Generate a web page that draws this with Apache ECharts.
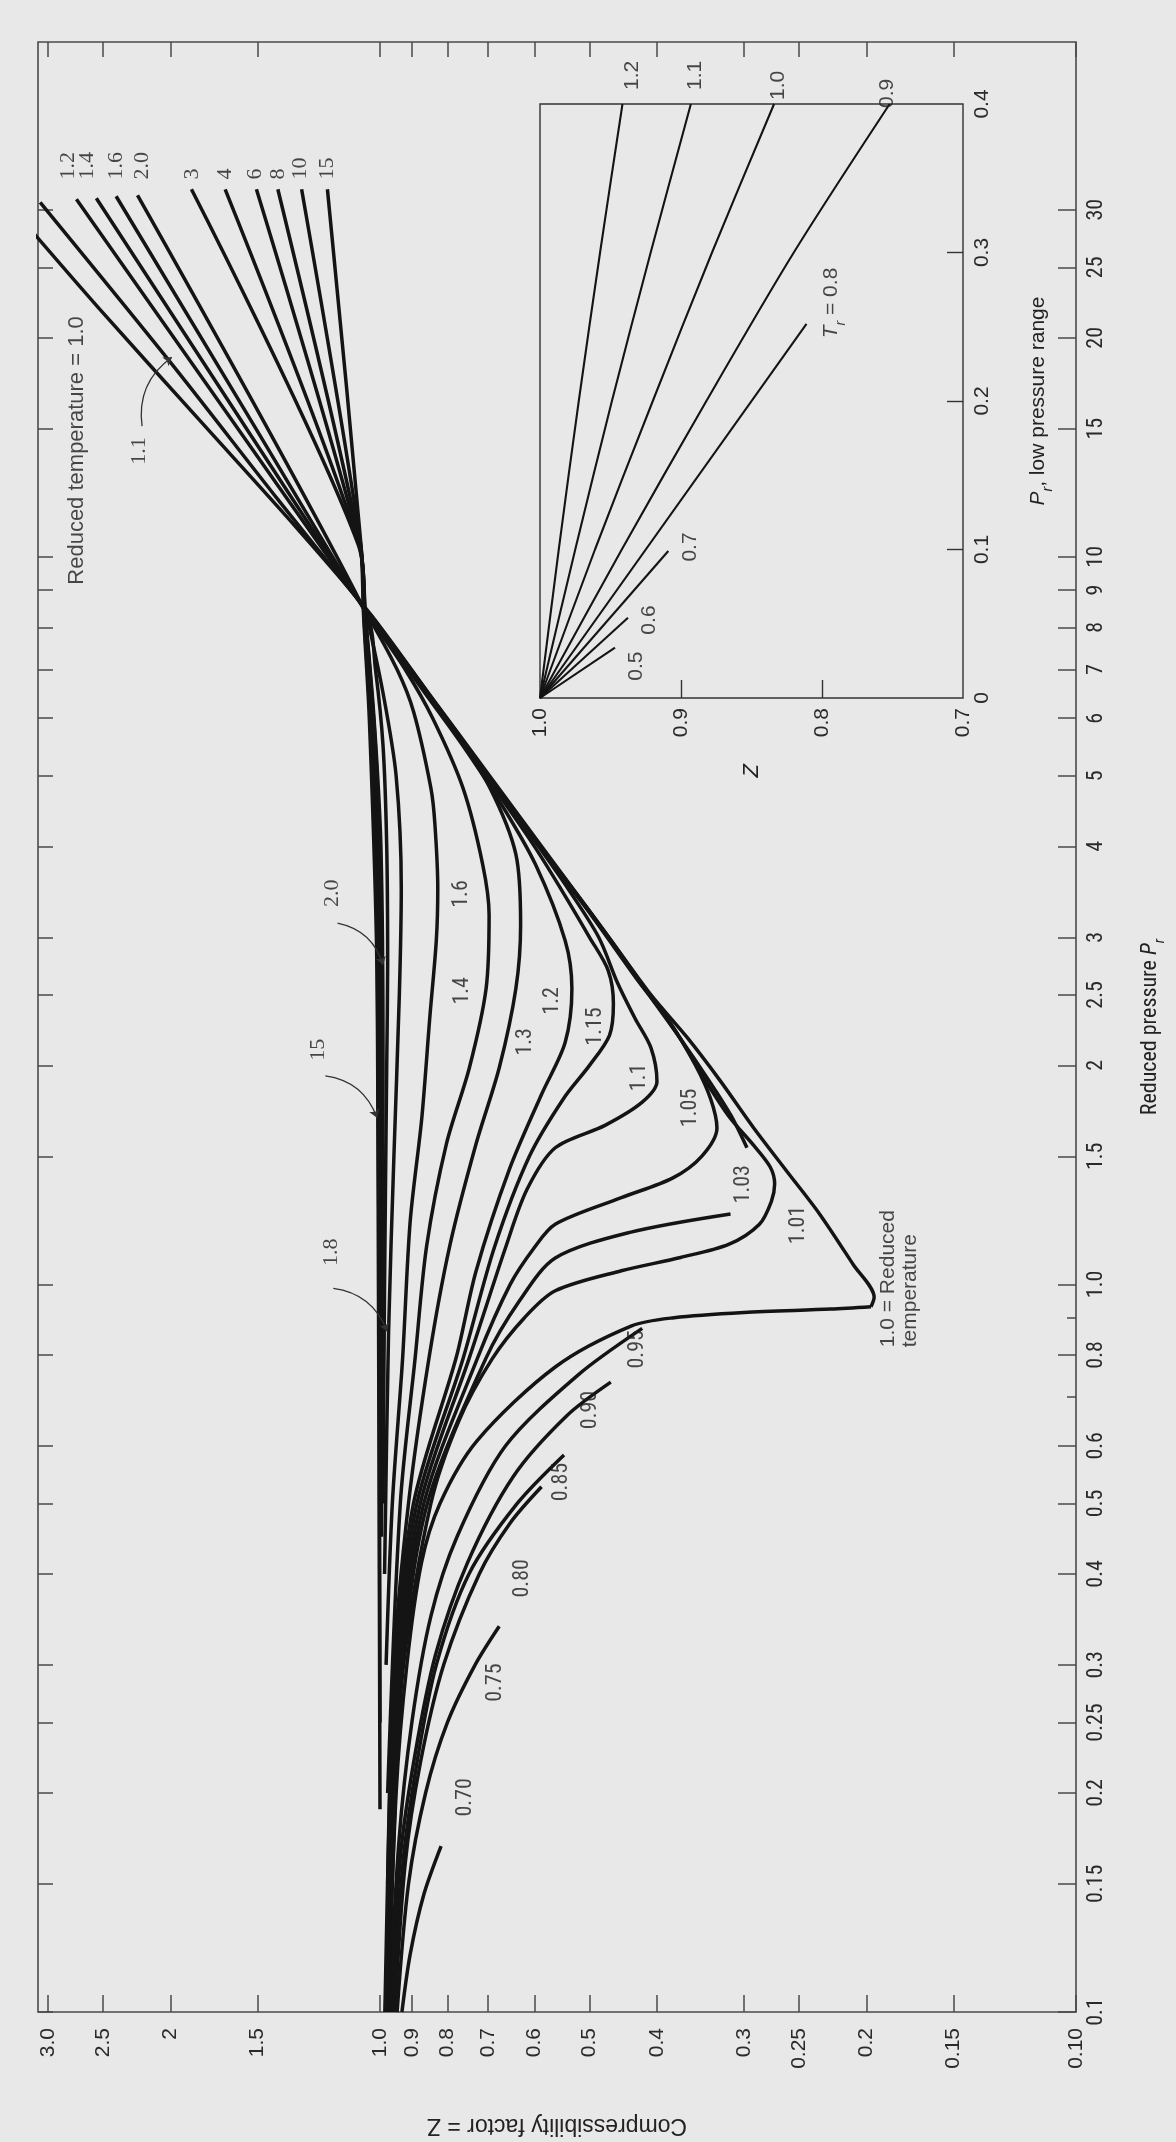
<!DOCTYPE html>
<html><head><meta charset="utf-8">
<script src="https://cdn.jsdelivr.net/npm/echarts@6/dist/echarts.min.js"></script>
<style>html,body{margin:0;padding:0;background:#e8e8e9;}#c{width:1176px;height:2142px;}</style>
</head><body><div id="c"></div>
<script>
// ---------------- axis ticks / labels ----------------
const zTicks = [3.0, 2.5, 2, 1.5, 1.0, 0.9, 0.8, 0.7, 0.6, 0.5, 0.4, 0.3, 0.25, 0.2, 0.15, 0.1];
const zTickText = ['3.0','2.5','2','1.5','1.0','0.9','0.8','0.7','0.6','0.5','0.4','0.3','0.25','0.2','0.15','0.10'];
const prTicks = [0.1,0.15,0.2,0.25,0.3,0.4,0.5,0.6,0.8,1,1.5,2,2.5,3,4,5,6,7,8,9,10,15,20,25,30];
const prTickText = ['0.1','0.15','0.2','0.25','0.3','0.4','0.5','0.6','0.8','1.0','1.5','2','2.5','3','4','5','6','7','8','9','10','15','20','25','30'];
const prMinorTicks = [0.7, 0.9];
const insetZTicks = [0.8, 0.9];
const insetZLabels = [1.0, 0.9, 0.8, 0.7];
const insetPrTicks = [0.1, 0.2, 0.3];
const insetPrLabels = [0, 0.1, 0.2, 0.3, 0.4];

// ---------------- main chart curves: [Pr, Z] ----------------
const T070 = [[0.1,0.93],[0.12,0.905],[0.145,0.865],[0.169,0.817]];
const T075 = [[0.1,0.945],[0.15,0.91],[0.2,0.86],[0.25,0.80],[0.3,0.73],[0.339,0.674]];
const T080 = [[0.1,0.952],[0.16,0.92],[0.22,0.875],[0.3,0.81],[0.4,0.72],[0.47,0.65],[0.527,0.586]];
const T085 = [[0.1,0.957],[0.16,0.927],[0.22,0.885],[0.3,0.83],[0.4,0.745],[0.5,0.635],[0.583,0.544]];
const T090 = [[0.1,0.963],[0.163,0.935],[0.224,0.892],[0.31,0.832],[0.414,0.749],[0.545,0.643],[0.66,0.539],[0.734,0.466]];
const T095 = [[0.1,0.968],[0.17,0.94],[0.25,0.9],[0.35,0.845],[0.45,0.775],[0.6,0.66],[0.75,0.52],[0.87,0.42]];
const T100low = [[0.1,0.972],[0.2,0.948],[0.3,0.915],[0.414,0.872],[0.5,0.82],[0.61,0.725],[0.77,0.56],[0.877,0.435],[0.9,0.378],[0.915,0.3],[0.925,0.225],[0.932,0.197]];
const T100high = [[0.932,0.197],[0.96,0.195],[1.065,0.209],[1.25,0.2336],[1.432,0.2605],[1.642,0.2906],[1.903,0.3242],[2.18,0.3613],[2.5,0.408],[3,0.469],[4,0.586],[5,0.696],[6.5,0.852],[8.35,1.033],[10.92,1.313],[15.46,1.822],[21.9,2.528],[27.9,3.15]];
const T101 = [[0.1,0.974],[0.2,0.95],[0.3,0.925],[0.5,0.845],[0.65,0.77],[0.79,0.69],[0.9,0.62],[0.98,0.56],[1.044,0.45],[1.089,0.37],[1.136,0.315],[1.21,0.285],[1.3,0.274],[1.374,0.271],[1.45,0.275],[1.55,0.29],[1.7,0.315],[1.9,0.34],[2.2,0.373],[2.6,0.422],[3.2,0.493],[4,0.588],[5,0.698],[6.5,0.853],[8.35,1.034]];
const T103low = [[0.1,0.976],[0.2,0.953],[0.3,0.93],[0.5,0.855],[0.79,0.705],[0.95,0.63],[1.087,0.56],[1.18,0.436],[1.25,0.3136]];
const T103high = [[1.541,0.297],[1.706,0.313],[1.9,0.336],[2.2,0.373],[2.6,0.423],[3.2,0.494],[4,0.589],[5,0.699],[6.5,0.854],[8.35,1.035]];
const T105 = [[0.1,0.978],[0.2,0.956],[0.3,0.935],[0.5,0.865],[0.79,0.725],[1.0,0.65],[1.124,0.60],[1.21,0.56],[1.316,0.45],[1.4,0.38],[1.5,0.345],[1.641,0.328],[1.8,0.335],[2.0,0.352],[2.3,0.384],[2.6,0.424],[3.2,0.495],[4,0.59],[5,0.70],[6.5,0.855],[8.35,1.036]];
const T110 = [[0.1,0.98],[0.2,0.96],[0.3,0.94],[0.5,0.875],[0.79,0.745],[1.124,0.66],[1.35,0.615],[1.541,0.56],[1.654,0.475],[1.78,0.42],[1.9,0.40],[2.114,0.408],[2.32,0.43],[2.6,0.456],[3.0,0.485],[3.5,0.537],[4,0.592],[5,0.70],[6.5,0.856],[8.35,1.037],[12,1.403],[18.5,2.0],[30.7,3.078]];
const T115 = [[0.1,0.982],[0.2,0.964],[0.3,0.945],[0.5,0.885],[0.79,0.76],[1.124,0.685],[1.5,0.61],[1.8,0.545],[2.0,0.50],[2.2,0.468],[2.43,0.462],[2.7,0.47],[3.0,0.50],[3.5,0.55],[4,0.60],[5,0.705],[6.5,0.858],[8.35,1.038]];
const T120 = [[0.1,0.984],[0.2,0.968],[0.3,0.95],[0.5,0.895],[0.794,0.777],[1.042,0.728],[1.438,0.652],[1.831,0.585],[2.15,0.542],[2.549,0.53],[2.969,0.542],[3.779,0.598],[4.6,0.672],[5.5,0.76],[6.5,0.862],[7.456,0.955],[8.35,1.04],[16,1.678],[31,2.73]];
const T130 = [[0.15,0.975],[0.3,0.955],[0.5,0.91],[0.794,0.85],[1.129,0.794],[1.558,0.728],[1.985,0.674],[2.549,0.638],[3.117,0.628],[3.902,0.638],[4.813,0.695],[5.8,0.785],[7.0,0.908],[8.35,1.04]];
const T140 = [[0.2,0.975],[0.5,0.935],[0.794,0.89],[1.129,0.857],[1.558,0.803],[1.985,0.744],[2.549,0.704],[3.218,0.697],[3.779,0.712],[4.813,0.76],[6.0,0.84],[7.0,0.92],[8.35,1.042],[31.1,2.556]];
const T160 = [[0.3,0.98],[0.5,0.96],[0.79,0.928],[1.22,0.905],[1.69,0.871],[2.33,0.848],[2.97,0.83],[3.5,0.826],[4.3,0.834],[4.81,0.845],[6.13,0.895],[7.0,0.945],[8.35,1.045],[31.3,2.394]];
const T180 = [[0.4,0.985],[0.86,0.972],[1.5,0.955],[2.5,0.938],[3.5,0.932],[5.0,0.948],[6.5,0.99],[8.35,1.046]];
const T200 = [[0.5,0.99],[1.0,0.985],[2.0,0.978],[2.75,0.975],[4.0,0.978],[5.5,0.99],[7.0,1.015],[8.35,1.046],[31.4,2.23]];
const T300 = [[0.45,0.995],[2,0.99],[4,0.997],[6,1.02],[8.35,1.05],[10.4,1.075],[32,1.866]];
const T400 = [[0.5,1.0],[2,0.998],[5,1.01],[8.35,1.05],[10.4,1.072],[32,1.669]];
const T600 = [[0.62,1.0],[3,1.003],[6,1.025],[8.35,1.051],[10.4,1.07],[32,1.505]];
const T800 = [[0.7,1.0],[3,1.006],[6,1.03],[8.35,1.053],[10.4,1.068],[32,1.402]];
const T1000 = [[0.25,1.0],[3,1.009],[6,1.033],[8.35,1.055],[10.4,1.066],[32,1.296]];
const T1500 = [[0.19,1.0],[1.7,1.007],[3,1.012],[6,1.036],[8.35,1.056],[10.4,1.065],[32,1.19]];

// ---------------- inset curves (low pressure range): [Pr, Z] ----------------
const I05 = [[0,1],[0.034,0.9468]];
const I06 = [[0,1],[0.054,0.9376]];
const I07 = [[0,1],[0.099,0.909]];
const I08 = [[0,1],[0.252,0.811]];
const I09 = [[0,1],[0.1,0.942],[0.2,0.882],[0.3,0.82],[0.4,0.752]];
const I10 = [[0,1],[0.1,0.961],[0.2,0.92],[0.3,0.878],[0.4,0.834]];
const I11 = [[0,1],[0.1,0.975],[0.2,0.949],[0.3,0.9215],[0.4,0.893]];
const I12 = [[0,1],[0.1,0.9867],[0.2,0.9725],[0.3,0.9574],[0.4,0.9415]];

// ---------------- text labels: [text, Z, Pr] ----------------
const curveLabels = [['0.70',0.753,0.1972],['0.75',0.6816,0.2836],['0.80',0.6245,0.3945],['0.85',0.549,0.535],['0.90',0.4976,0.672],['0.95',0.4269,0.8143],['1.01',0.2504,1.207],['1.03',0.3004,1.373],['1.05',0.3581,1.748],['1.1',0.4242,1.925],['1.15',0.4898,2.262],['1.2',0.5657,2.453],['1.3',0.6179,2.155],['1.4',0.760,2.532],['1.6',0.7649,3.44]];
const topLabels = [['1.2',2.809,33],['1.4',2.630,33],['1.6',2.392,33],['2.0',2.197,33],['3',1.864,33],['4',1.668,33],['6',1.511,33],['8',1.402,33],['10',1.300,33],['15',1.190,33]];
const arrowLabels = [['1.1',2.218,13.98],['2.0',1.170,3.449],['15',1.226,2.101],['1.8',1.174,1.107]];
const arrowFrom = [[2.197,15.12],[1.151,3.138],[1.198,1.935],[1.167,0.9874]];
const arrowTo = [[1.991,18.81],[0.990,2.748],[1.010,1.695],[0.977,0.862]];
const insetTopLabels = [['1.2',0.9348,0.4094],['1.1',0.890,0.4094],['1.0',0.8312,0.4027],['0.9',0.7539,0.3973]];
const insetLowLabels = [['0.5',0.9319,0.0215],['0.6',0.9227,0.0525],['0.7',0.8936,0.1017]];

// ---------------- chart ----------------
const NARROW = "'Liberation Sans Narrow','Roboto Condensed','Liberation Sans','DejaVu Sans Condensed',sans-serif";
const SANS = "'Liberation Sans','Helvetica','Arial',sans-serif";
const SERIF = "'Liberation Serif','DejaVu Serif',serif";
const INK = '#141414';
const AX = '#4a4a4a';
const FS = 22;

function fmt(vals, texts) {
  return function (v) {
    for (let i = 0; i < vals.length; i++) if (Math.abs(vals[i] - v) < 1e-6 * Math.max(1, Math.abs(v))) return texts[i];
    return '';
  };
}
const swap = arr => arr.map(p => [p[1], p[0]]);

function lineS(arr, xi, yi, w) {
  return { type: 'line', xAxisIndex: xi, yAxisIndex: yi, data: swap(arr), showSymbol: false, symbol: 'none',
    smooth: 0.3, clip: false, silent: true, lineStyle: { color: INK, width: w }, z: 3 };
}
function textS(items, xi, yi, lab) {
  return { type: 'scatter', xAxisIndex: xi, yAxisIndex: yi, symbolSize: 1, silent: true, clip: false, z: 6,
    itemStyle: { color: 'rgba(0,0,0,0)' },
    data: items.map(d => ({ value: [d[1], d[2]], name: d[0] })),
    label: Object.assign({ show: true, position: 'inside', rotate: 90, formatter: p => p.name,
      color: '#1b1b1b', fontSize: FS, fontFamily: NARROW }, lab) };
}

const mainCurves = [T070, T075, T080, T085, T090, T095, T100low, T100high, T101, T103low, T103high, T105, T110, T115, T120, T130, T140, T160, T180, T200, T300, T400, T600, T800, T1000, T1500];
const insetCurves = [I05, I06, I07, I08, I09, I10, I11, I12];

const series = [];
mainCurves.forEach(c => series.push(lineS(c, 0, 0, 3.5)));
insetCurves.forEach(c => series.push(lineS(c, 2, 3, 2.1)));
series.push(textS(curveLabels, 0, 0, {}));
series.push(textS(topLabels, 0, 0, { align: 'left', fontFamily: SERIF, fontSize: 22 }));
series.push(textS(arrowLabels, 0, 0, { fontFamily: SERIF, fontSize: 22 }));
series.push(textS([['Reduced temperature = 1.0', 2.728, 21.41]], 0, 0, { align: 'right', fontSize: 22, fontFamily: SANS }));
series.push(textS([['1.0 = Reduced\ntemperature', 0.1795, 0.8196]], 0, 0, { align: 'left', fontSize: 21, lineHeight: 22, fontFamily: SANS }));
series.push({ type: 'lines', coordinateSystem: 'cartesian2d', xAxisIndex: 0, yAxisIndex: 0, silent: true, z: 5,
  symbol: ['none', 'arrow'], symbolSize: 8,
  lineStyle: { color: '#333', width: 1.3, curveness: 0.3, opacity: 1 },
  data: arrowFrom.map((f, i) => ({ coords: [f, arrowTo[i]] })) });
series.push(textS(insetTopLabels, 2, 3, { align: 'left', fontSize: 21, fontFamily: SANS }));
series.push(textS(insetLowLabels, 2, 3, { fontSize: 21, fontFamily: SANS }));
series.push(textS([['{i|T}{s|r}{a| = 0.8}', 0.7936, 0.266]], 2, 3, {
  fontSize: 21, rich: { a: { fontSize: 21, fontFamily: SANS, color: '#1b1b1b' }, i: { fontSize: 21, fontStyle: 'italic', fontFamily: SANS, color: '#1b1b1b' },
  s: { fontSize: 14, fontStyle: 'italic', fontFamily: SANS, color: '#1b1b1b', verticalAlign: 'bottom', lineHeight: 34 } } }));

const hidden = { show: false };
const option = {
  backgroundColor: '#e8e8e9',
  animation: false,
  grid: [
    { left: 38, right: 90.6, top: 42, bottom: 126, show: true, borderColor: AX, borderWidth: 1.6, backgroundColor: 'rgba(0,0,0,0)' },
    { left: 540, top: 104, width: 423, height: 594, show: true, borderColor: '#333', borderWidth: 1.4, backgroundColor: 'rgba(0,0,0,0)' }
  ],
  xAxis: [
    { type: 'log', gridIndex: 0, min: 0.1, max: 3.1, inverse: true, position: 'bottom',
      axisLine: hidden, splitLine: hidden, minorTick: hidden,
      axisTick: { show: true, inside: true, length: 17, customValues: zTicks, lineStyle: { color: AX, width: 1.5 } },
      axisLabel: { show: true, rotate: 90, margin: 16, customValues: zTicks, formatter: fmt(zTicks, zTickText), color: '#2a2a2a', fontSize: 21, fontFamily: SANS },
      name: 'Compressibility factor = Z', nameLocation: 'middle', nameGap: 102, nameRotate: 180,
      nameTextStyle: { fontSize: 23, color: '#222', fontFamily: SANS } },
    { type: 'log', gridIndex: 0, min: 0.1, max: 3.1, inverse: true, position: 'top',
      axisLine: hidden, splitLine: hidden, axisLabel: hidden,
      axisTick: { show: true, inside: true, length: 15, customValues: zTicks, lineStyle: { color: AX, width: 1.5 } } },
    { type: 'value', gridIndex: 1, min: 0.7, max: 1.0, inverse: true, position: 'bottom',
      axisLine: hidden, splitLine: hidden,
      axisTick: { show: true, inside: true, length: 18, customValues: insetZTicks, lineStyle: { color: '#333', width: 1.4 } },
      axisLabel: { show: true, rotate: 90, margin: 10, customValues: insetZLabels, formatter: v => v.toFixed(1), color: '#2a2a2a', fontSize: 21, fontFamily: SANS },
      name: 'Z', nameLocation: 'middle', nameGap: 66, nameRotate: 90,
      nameTextStyle: { fontSize: 22, fontStyle: 'italic', color: '#222', fontFamily: SANS } }
  ],
  yAxis: [
    { type: 'log', gridIndex: 0, min: 0.1, max: 51, position: 'right',
      axisLine: hidden, splitLine: hidden, minorTick: hidden,
      axisTick: { show: true, inside: true, length: 18, customValues: prTicks, lineStyle: { color: AX, width: 1.5 } },
      axisLabel: { show: true, rotate: 90, margin: 9, customValues: prTicks, formatter: fmt(prTicks, prTickText), color: '#2a2a2a', fontSize: 22, fontFamily: NARROW },
      name: '{a|Reduced pressure }{i|P}{s|r}', nameLocation: 'middle', nameGap: 56, nameRotate: 90,
      nameTextStyle: { fontSize: 22, color: '#222', fontFamily: NARROW,
        rich: { a: { fontSize: 22, fontFamily: NARROW, color: '#222' }, i: { fontSize: 22, fontStyle: 'italic', fontFamily: NARROW, color: '#222' },
          s: { fontSize: 15, fontStyle: 'italic', fontFamily: NARROW, color: '#222', verticalAlign: 'bottom', lineHeight: 36 } } } },
    { type: 'log', gridIndex: 0, min: 0.1, max: 51, position: 'right', offset: 0,
      axisLine: hidden, splitLine: hidden, axisLabel: hidden,
      axisTick: { show: true, inside: true, length: 9, customValues: prMinorTicks, lineStyle: { color: AX, width: 1.5 } } },
    { type: 'log', gridIndex: 0, min: 0.1, max: 51, position: 'left',
      axisLine: hidden, splitLine: hidden, axisLabel: hidden,
      axisTick: { show: true, inside: true, length: 15, customValues: prTicks, lineStyle: { color: AX, width: 1.5 } } },
    { type: 'value', gridIndex: 1, min: 0, max: 0.4, position: 'right',
      axisLine: hidden, splitLine: hidden,
      axisTick: { show: true, inside: true, length: 16, customValues: insetPrTicks, lineStyle: { color: '#333', width: 1.4 } },
      axisLabel: { show: true, rotate: 90, margin: 9, customValues: insetPrLabels, formatter: v => (v === 0 ? '0' : v.toFixed(1)), color: '#2a2a2a', fontSize: 21, fontFamily: SANS },
      name: '{i|P}{s|r}{a|, low pressure range}', nameLocation: 'middle', nameGap: 58, nameRotate: 90,
      nameTextStyle: { fontSize: 21, color: '#222', fontFamily: SANS,
        rich: { a: { fontSize: 21, fontFamily: SANS, color: '#222' }, i: { fontSize: 21, fontStyle: 'italic', fontFamily: SANS, color: '#222' },
          s: { fontSize: 14, fontStyle: 'italic', fontFamily: SANS, color: '#222', verticalAlign: 'bottom', lineHeight: 34 } } } }
  ],
  series: series
};
const chart = echarts.init(document.getElementById('c'), null, { renderer: 'canvas', width: 1176, height: 2142 });
chart.setOption(option);
</script></body></html>
